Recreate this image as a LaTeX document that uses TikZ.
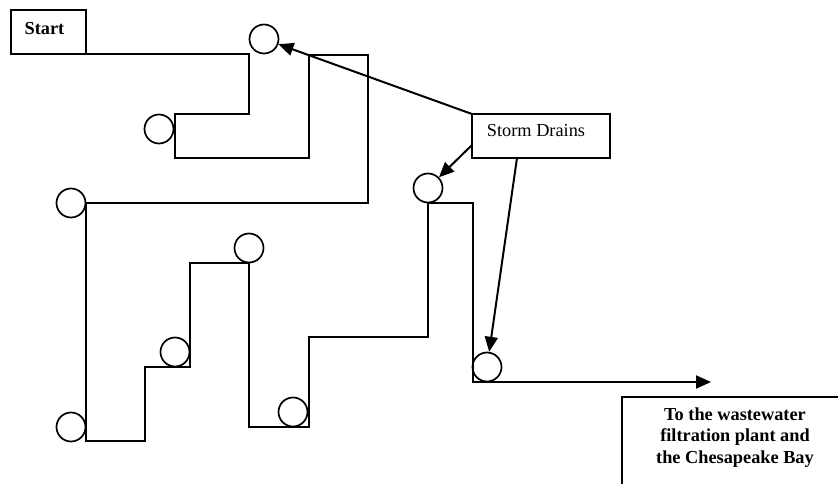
\documentclass[tikz,border=0pt]{standalone}
\usepackage{fontspec}
\setmainfont{Liberation Serif}
\usetikzlibrary{arrows.meta}
\begin{document}
\begin{tikzpicture}[x=1pt,y=-1pt,
    line width=2pt,
    pipe/.style={line join=miter},
    drain/.style={circle,draw,line width=1.7pt,minimum size=29pt,inner sep=0pt},
    labelbox/.style={draw,rectangle,inner sep=0pt,outer sep=0pt},
    txt/.style={font=\fontsize{18.3}{21.5}\selectfont},
    boldtxt/.style={font=\fontsize{18.3}{21.5}\selectfont\bfseries},
    flow/.style={-{Triangle[length=15pt,width=13pt]}}]
  \clip (0,0) rectangle (838,484);
  \fill[white] (0,0) rectangle (838,484);

  % labelled boxes
  \node[labelbox,minimum width=75pt,minimum height=44pt,anchor=north west,
        label={[boldtxt,xshift=-4pt,yshift=3pt]center:Start}]
        (start) at (11,10) {};
  \node[labelbox,minimum width=138pt,minimum height=44pt,anchor=north west,
        label={[txt,xshift=-5pt,yshift=5pt]center:Storm Drains}]
        (sd) at (472,114) {};
  \node[labelbox,minimum width=240pt,minimum height=120pt,anchor=north west]
        (dest) at (622,397) {};
  \node[boldtxt,align=center]
        (desttext) at (735,437.5) {To the wastewater\\filtration plant and\\the Chesapeake Bay};

  % storm drains
  \node[drain] (c1) at (264,39) {};
  \node[drain] (c2) at (159,129) {};
  \node[drain] (c3) at (71,203) {};
  \node[drain] (c4) at (71,427) {};
  \node[drain] (c5) at (175,352) {};
  \node[drain] (c6) at (249,248) {};
  \node[drain] (c7) at (293,412) {};
  \node[drain] (c8) at (428,188) {};
  \node[drain] (c9) at (487,367) {};

  \coordinate (outlet) at (711,382);

  % the stormwater pipe
  \draw[pipe,flow] (start.south east) -- (249,54) -- (249,114) -- (175,114)
    -- (175,158) -- (309,158) -- (309,55) -- (368,55) -- (368,203)
    -- (86,203) -- (86,441) -- (145,441) -- (145,367) -- (190,367)
    -- (190,263) -- (249,263) -- (249,427) -- (309,427) -- (309,337)
    -- (428,337) -- (428,203) -- (473,203) -- (473,382) -- (outlet);

  % pointers from the label to the drains
  \draw[flow] (sd.north west) -- (c1);
  \draw[flow] ([yshift=13pt]sd.south west) -- (c8);
  \draw[flow] ([xshift=45pt]sd.south west) -- (c9);
\end{tikzpicture}
\end{document}
